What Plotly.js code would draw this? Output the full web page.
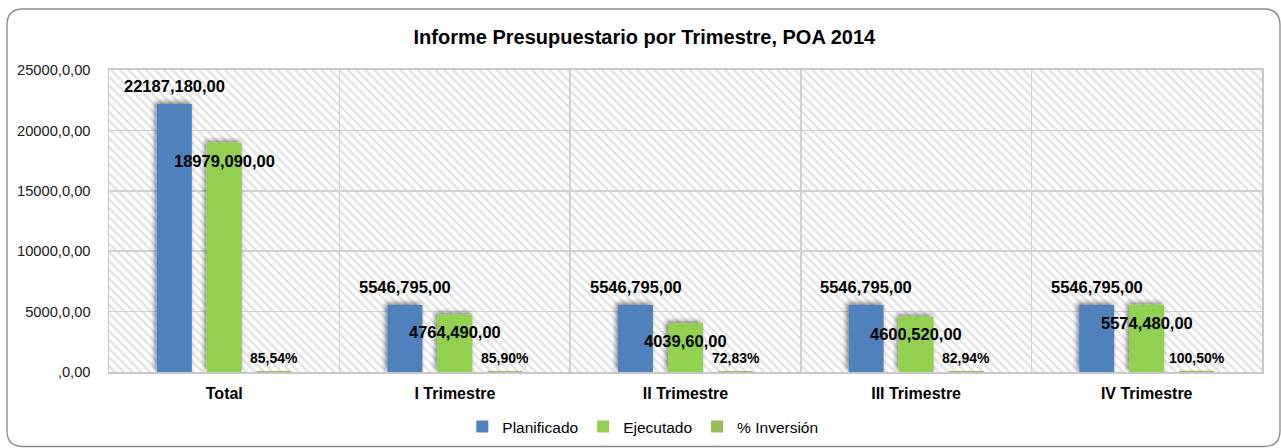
<!DOCTYPE html>
<html>
<head>
<meta charset="utf-8">
<script src="https://cdn.plot.ly/plotly-3.0.1.min.js"></script>
<style>
  html, body { margin: 0; padding: 0; background: #ffffff; }
  #chart { width: 1281px; height: 448px; }
  #chart .barlayer .trace:nth-child(-n+2) .point path { filter: url(#barshadow); }
</style>
</head>
<body>
<svg width="1" height="1" style="position:absolute;left:0;top:0">
  <defs>
    <filter id="barshadow" x="-60%" y="-60%" width="220%" height="220%">
      <feGaussianBlur in="SourceAlpha" stdDeviation="2.8" result="blur"/>
      <feOffset in="blur" dx="-2" dy="-2" result="off"/>
      <feComponentTransfer in="off" result="soft">
        <feFuncA type="linear" slope="0.5"/>
      </feComponentTransfer>
      <feMerge>
        <feMergeNode in="soft"/>
        <feMergeNode in="SourceGraphic"/>
      </feMerge>
    </filter>
  </defs>
</svg>
<div id="chart"></div>
<script>
// ---- data ----
var categories = ["Total", "I Trimestre", "II Trimestre", "III Trimestre", "IV Trimestre"];
var planificado = [22187.18, 5546.795, 5546.795, 5546.795, 5546.795];
var ejecutado = [18979.09, 4764.49, 4039.60, 4600.52, 5574.48];
var inversion = [85.54, 85.90, 72.83, 82.94, 100.50];
var planLabels = ["22187,180,00", "5546,795,00", "5546,795,00", "5546,795,00", "5546,795,00"];
var ejecLabels = ["18979,090,00", "4764,490,00", "4039,60,00", "4600,520,00", "5574,480,00"];
var invLabels = ["85,54%", "85,90%", "72,83%", "82,94%", "100,50%"];
var yTickVals = [0, 5000, 10000, 15000, 20000, 25000];
var yTickText = [",0,00", "5000,0,00", "10000,0,00", "15000,0,00", "20000,0,00", "25000,0,00"];

var FONT = "Liberation Sans, Arial, sans-serif";

var traces = [
  { type: "bar", name: "Planificado", x: categories, y: planificado,
    marker: { color: "#4F81BD" }, hoverinfo: "none" },
  { type: "bar", name: "Ejecutado", x: categories, y: ejecutado,
    marker: { color: "#92D050" }, hoverinfo: "none" },
  { type: "bar", name: "% Inversión", x: categories, y: inversion,
    marker: { color: "#9BBB59" }, hoverinfo: "none" }
];

var annotations = [];
for (var i = 0; i < categories.length; i++) {
  annotations.push({ x: categories[i], y: planificado[i], xref: "x", yref: "y",
    text: planLabels[i], showarrow: false, xshift: -50, yshift: 18,
    font: { family: FONT, size: 16.5, color: "#000000", weight: "bold" } });
  annotations.push({ x: categories[i], y: ejecutado[i], xref: "x", yref: "y",
    text: ejecLabels[i], showarrow: false, xshift: 0, yshift: -18,
    font: { family: FONT, size: 16.5, color: "#000000", weight: "bold" } });
  annotations.push({ x: categories[i], y: inversion[i], xref: "x", yref: "y",
    text: invLabels[i], showarrow: false, xshift: 50, yshift: 13,
    font: { family: FONT, size: 14, color: "#000000", weight: "bold" } });
}

// rounded outer border (pixel geometry converted to paper units)
var W = 1281, H = 448, mL = 109, mR = 19, mT = 70, mB = 76;
var pw = W - mL - mR, ph = H - mT - mB;
function px(x) { return (x - mL) / pw; }
function py(y) { return (H - mB - y) / ph; }
var bx0 = 7, bx1 = 1280, by0 = 9, by1 = 446.5, r = 16;
var path = "M " + px(bx0 + r) + "," + py(by0) +
  " L " + px(bx1 - r) + "," + py(by0) +
  " Q " + px(bx1) + "," + py(by0) + " " + px(bx1) + "," + py(by0 + r) +
  " L " + px(bx1) + "," + py(by1 - r) +
  " Q " + px(bx1) + "," + py(by1) + " " + px(bx1 - r) + "," + py(by1) +
  " L " + px(bx0 + r) + "," + py(by1) +
  " Q " + px(bx0) + "," + py(by1) + " " + px(bx0) + "," + py(by1 - r) +
  " L " + px(bx0) + "," + py(by0 + r) +
  " Q " + px(bx0) + "," + py(by0) + " " + px(bx0 + r) + "," + py(by0) + " Z";

// diagonal hatch used as the plot-area background (decoration)
var hatchSvg = '<svg xmlns="http://www.w3.org/2000/svg" width="' + pw + '" height="' + ph + '">' +
  '<defs><pattern id="h" width="6.2" height="6.2" patternUnits="userSpaceOnUse" patternTransform="rotate(-45)">' +
  '<rect width="6.2" height="6.2" fill="#ffffff"/>' +
  '<line x1="1.5" y1="0" x2="1.5" y2="6.2" stroke="#e3e3e3" stroke-width="2.4"/>' +
  '</pattern></defs><rect width="100%" height="100%" fill="url(#h)"/></svg>';
var hatchSrc = "data:image/svg+xml;charset=utf-8," + encodeURIComponent(hatchSvg);

var layout = {
  width: W, height: H,
  margin: { l: mL, r: mR, t: mT, b: mB, pad: 0, autoexpand: false },
  paper_bgcolor: "#ffffff",
  plot_bgcolor: "#ffffff",
  font: { family: FONT, color: "#000000" },
  title: { text: "<b>Informe Presupuestario por Trimestre, POA 2014</b>",
    font: { family: FONT, size: 20, color: "#000000" },
    x: 0.503, xanchor: "center", y: 1 - 37 / H, yanchor: "middle", yref: "container" },
  barmode: "group",
  bargap: 0.35,
  bargroupgap: 0.3,
  hovermode: false,
  showlegend: true,
  legend: { orientation: "h", x: 0.463, xanchor: "center", y: py(427), yanchor: "middle",
    font: { family: FONT, size: 15.5, color: "#000000" }, itemwidth: 30, tracegroupgap: 0 },
  xaxis: {
    type: "category",
    tickson: "boundaries",
    showgrid: true, gridcolor: "#D0D0D0", gridwidth: 1.5,
    showline: true, mirror: true, linecolor: "#C8C8C8", linewidth: 2,
    ticks: "", ticklabelstandoff: 6,
    tickfont: { family: FONT, size: 16, color: "#000000", weight: "bold" },
    automargin: false,
    fixedrange: true
  },
  yaxis: {
    range: [0, 25000],
    tickmode: "array", tickvals: yTickVals, ticktext: yTickText,
    showgrid: true, gridcolor: "#D0D0D0", gridwidth: 1.5,
    zeroline: false,
    showline: true, mirror: true, linecolor: "#C8C8C8", linewidth: 1.5,
    ticks: "outside", ticklen: 14, tickcolor: "rgba(0,0,0,0)",
    tickfont: { family: FONT, size: 14.7, color: "#1a1a1a" },
    automargin: false,
    fixedrange: true
  },
  images: [{ source: hatchSrc, xref: "paper", yref: "paper", x: 0, y: 1,
    sizex: 1, sizey: 1, xanchor: "left", yanchor: "top", sizing: "stretch", layer: "below" }],
  annotations: annotations,
  shapes: [{ type: "path", xref: "paper", yref: "paper", path: path,
    line: { color: "#8a8a8a", width: 1.3 }, fillcolor: "rgba(0,0,0,0)", layer: "above" }]
};

Plotly.newPlot("chart", traces, layout, { displayModeBar: false, staticPlot: true });
</script>
</body>
</html>
